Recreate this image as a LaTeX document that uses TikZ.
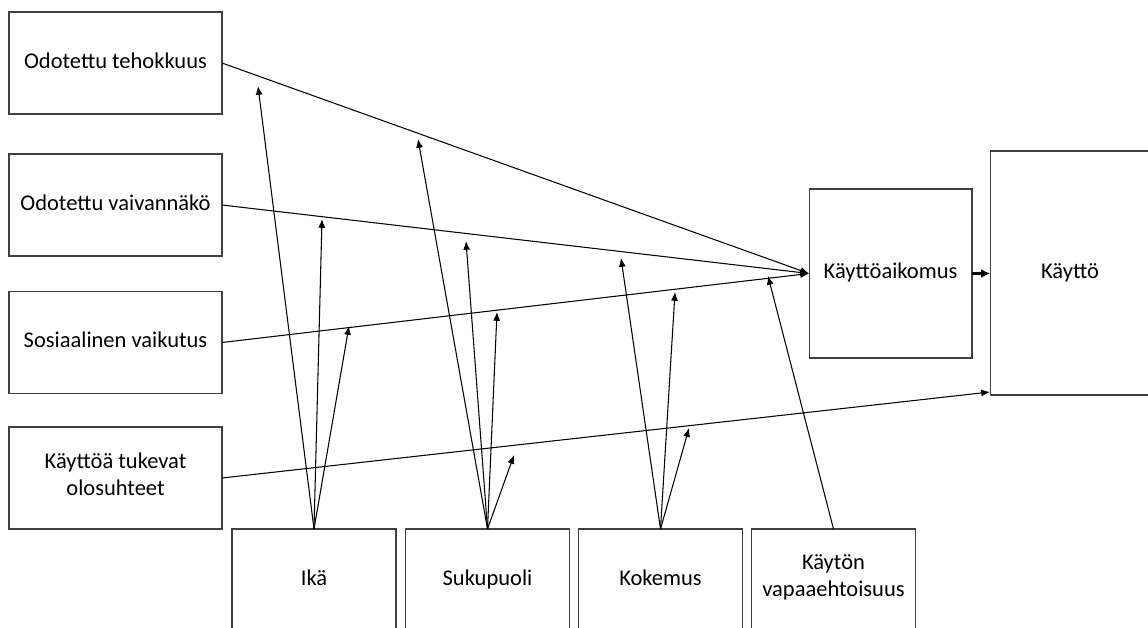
\documentclass[tikz,border=0pt]{standalone}
\usepackage{fontspec}
\setmainfont{Carlito}
\usepackage{tikz}
\usetikzlibrary{arrows.meta}

\begin{document}
\begin{tikzpicture}[
    x=0.02cm, y=-0.02cm,
    >={Latex[length=5pt,width=4pt]}, % Arrow tip style
    line width=0.6pt,
    box/.style={draw=black!75, inner sep=0pt, outer sep=0pt, align=center,
        font=\fontsize{12.8}{15.5}\selectfont, execute at begin node=\strut},
    leftbox/.style={box, minimum width=4.26cm, minimum height=2.04cm},
    botbox/.style={box, minimum width=3.28cm, minimum height=2.04cm}
]
\useasboundingbox (0,0) rectangle (1148,628);

% Define the nodes
\node[leftbox] (OT) at (115.5, 63) {Odotettu tehokkuus};
\node[leftbox] (OV) at (115.5, 205) {Odotettu vaivannäkö};
\node[leftbox] (SV) at (115.5, 342.5) {Sosiaalinen vaikutus};
\node[leftbox] (KT) at (115.5, 478) {Käyttöä tukevat\\olosuhteet};
\node[botbox] (IK) at (314, 580) {Ikä};
\node[botbox] (SP) at (487.5, 580) {Sukupuoli};
\node[botbox] (KO) at (660.5, 580) {Kokemus};
\node[botbox] (VA) at (833.5, 580) {Käytön\\vapaaehtoisuus};
\node[box, minimum width=3.26cm, minimum height=3.38cm] (AI) at (890.5, 273.5) {Käyttöaikomus};
\node[box, minimum width=3.2cm, minimum height=4.88cm] (KA) at (1070, 273) {Käyttö};

% Ends of the moderating arrows
\coordinate (IK1) at (258, 86);
\coordinate (IK2) at (322, 219);
\coordinate (IK3) at (349, 326);
\coordinate (SP1) at (418, 139);
\coordinate (SP2) at (466, 241);
\coordinate (SP3) at (497, 312);
\coordinate (SP4) at (514, 455);
\coordinate (KO2) at (621, 258);
\coordinate (KO3) at (675, 292);
\coordinate (KO4) at (689, 428);
\coordinate (VA3) at (768, 276);
\coordinate (KA4) at (990, 392);

% Define the directed edges
\draw[->] (OT.east) -- (AI.west);
\draw[->] (OV.east) -- (AI.west);
\draw[->] (SV.east) -- (AI.west);
\draw[->] (KT.east) -- (KA4);
\draw[->, line width=1.6pt, >={Latex[length=5pt,width=5pt]}] (AI.east) -- (AI.east -| KA.west);

\draw[->] (IK.north) -- (IK1);
\draw[->] (IK.north) -- (IK2);
\draw[->] (IK.north) -- (IK3);
\draw[->] (SP.north) -- (SP1);
\draw[->] (SP.north) -- (SP2);
\draw[->] (SP.north) -- (SP3);
\draw[->] (SP.north) -- (SP4);
\draw[->] (KO.north) -- (KO2);
\draw[->] (KO.north) -- (KO3);
\draw[->] (KO.north) -- (KO4);
\draw[->] (VA.north) -- (VA3);

\end{tikzpicture}
\end{document}
